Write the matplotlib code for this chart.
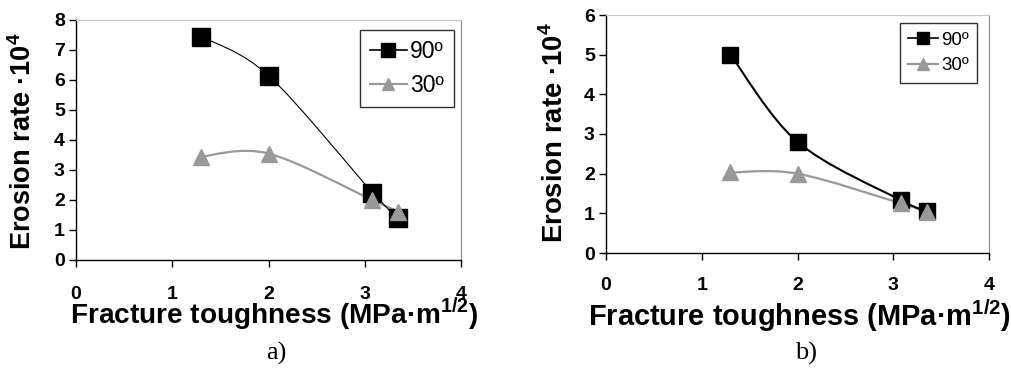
import matplotlib
matplotlib.use("Agg")
import matplotlib.pyplot as plt
import numpy as np
from matplotlib.path import Path
from matplotlib.patches import PathPatch
from matplotlib.lines import Line2D

plt.rcParams['font.family'] = ['Liberation Sans', 'DejaVu Sans']
plt.rcParams['mathtext.fontset'] = 'custom'
plt.rcParams['mathtext.rm'] = 'Liberation Sans'
plt.rcParams['mathtext.bf'] = 'Liberation Sans:bold'

# ---- data ----
toughness = [1.3, 2.0, 3.08, 3.35]
a_90 = [7.45, 6.15, 2.25, 1.4]
a_30 = [3.45, 3.55, 2.0, 1.6]
b_90 = [5.0, 2.8, 1.33, 1.07]
b_30 = [2.03, 2.0, 1.25, 1.03]
series_labels = ['90º', '30º']
a_ylim = (0, 8)
b_ylim = (0, 6)
xticks = [0, 1, 2, 3, 4]
xlabel = 'Fracture toughness (MPa·m$^{\\mathbf{1/2}}$)'
ylabel = 'Erosion rate ·10$^{\\mathbf{4}}$'
panel_labels = ['a)', 'b)']

BLACK = '#000000'
GRAY = '#999999'


def smooth_path(x, y):
    pts = np.column_stack([x, y]).astype(float)
    n = len(pts)
    verts = [pts[0]]
    codes = [Path.MOVETO]
    for i in range(n - 1):
        p0 = pts[i - 1] if i > 0 else pts[i]
        p1 = pts[i]
        p2 = pts[i + 1]
        p3 = pts[i + 2] if i + 2 < n else pts[i + 1]
        c1 = p1 + (p2 - p0) / 6.0
        c2 = p2 - (p3 - p1) / 6.0
        verts += [c1, c2, p2]
        codes += [Path.CURVE4] * 3
    return Path(verts, codes)


def draw(ax, s90, s30, ylim, lw90, msq, mtri, legfs, leganchor, tickpad,
         xlfs, xl_coords, ylfs, yl_coords):
    ax.add_patch(PathPatch(smooth_path(toughness, s90), fill=False, edgecolor=BLACK, lw=lw90, zorder=3))
    ax.add_patch(PathPatch(smooth_path(toughness, s30), fill=False, edgecolor=GRAY, lw=1.6, zorder=2))
    ax.plot(toughness, s90, linestyle='none', marker='s', ms=msq, color=BLACK, zorder=4)
    ax.plot(toughness, s30, linestyle='none', marker='^', ms=mtri, color=GRAY, zorder=5)
    ax.set_xlim(0, 4)
    ax.set_ylim(*ylim)
    ax.set_xticks(xticks)
    ax.set_yticks(range(ylim[0], ylim[1] + 1))
    for sp in ['left', 'bottom']:
        ax.spines[sp].set_color(BLACK)
        ax.spines[sp].set_linewidth(1.0)
    ax.spines['top'].set_color('#c8c8c8')
    ax.spines['right'].set_color('#888888')
    ax.tick_params(axis='both', direction='out', length=5, width=1, labelsize=14)
    ax.tick_params(axis='x', pad=tickpad)
    ax.tick_params(axis='y', pad=3)
    for lab in ax.get_xticklabels() + ax.get_yticklabels():
        lab.set_fontweight('bold')
    ax.set_xlabel(xlabel, fontsize=xlfs, fontweight='bold')
    ax.set_ylabel(ylabel, fontsize=ylfs, fontweight='bold')
    ax.xaxis.set_label_coords(*xl_coords)
    ax.yaxis.set_label_coords(*yl_coords)
    h = [Line2D([], [], color=BLACK, lw=1.2, marker='s', ms=msq * 0.75),
         Line2D([], [], color=GRAY, lw=1.6, marker='^', ms=mtri * 0.75)]
    leg = ax.legend(h, series_labels, loc='upper right', bbox_to_anchor=leganchor,
                    borderaxespad=0, fontsize=legfs, fancybox=False, handlelength=1.6,
                    handletextpad=0.15, labelspacing=0.45, borderpad=0.45, framealpha=1)
    leg.get_frame().set_edgecolor('#333333')
    leg.get_frame().set_linewidth(1.0)


fig = plt.figure(figsize=(10.11, 3.71), dpi=100)
ax1 = fig.add_axes([76 / 1011, (371 - 260) / 371, 385 / 1011, 240 / 371])
ax2 = fig.add_axes([606 / 1011, (371 - 253) / 371, 383 / 1011, 238 / 371])

draw(ax1, a_90, a_30, a_ylim, 0.8, 12.5, 12, 16.5, (0.982, 0.958), 14,
     20.2, (0.514, -0.15), 19.5, (-0.10, 0.496))
draw(ax2, b_90, b_30, b_ylim, 1.5, 11.5, 11, 13.5, (0.969, 0.966), 12,
     20.9, (0.506, -0.185), 19.8, (-0.097, 0.504))

fig.text(276 / 1011, 1 - 353 / 371, panel_labels[0], fontsize=19, family='Liberation Serif',
         ha='center', va='center')
fig.text(806 / 1011, 1 - 353 / 371, panel_labels[1], fontsize=19, family='Liberation Serif',
         ha='center', va='center')

fig.savefig('out.png', dpi=100)
